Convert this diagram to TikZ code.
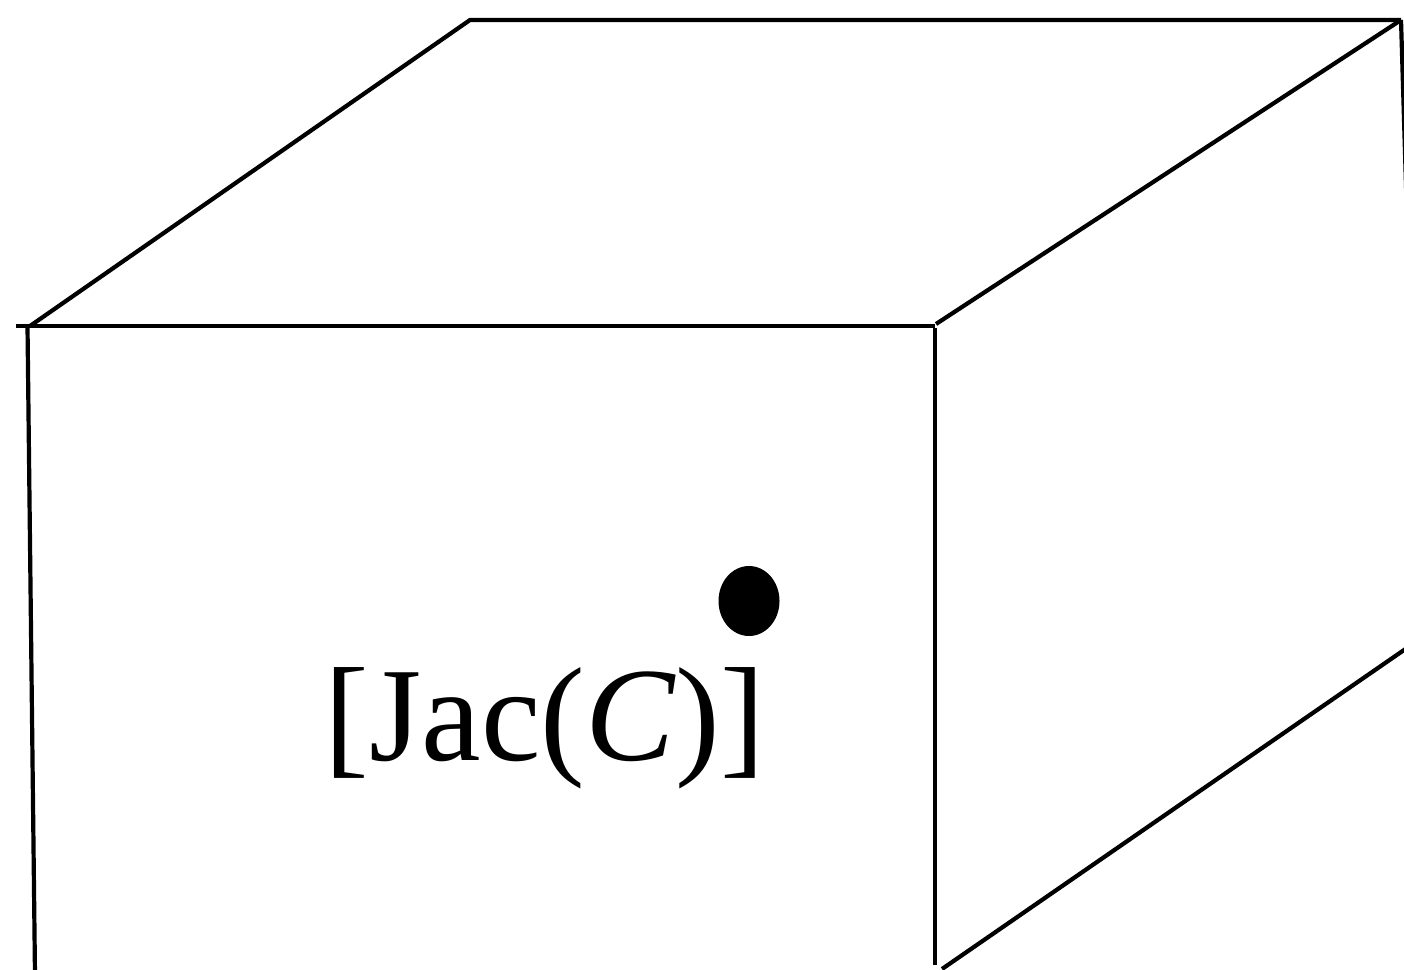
\documentclass[tikz,border=0pt]{standalone}
\usepackage{fontspec}
\usetikzlibrary{calc}
\setmainfont{Liberation Serif}
\begin{document}
\begin{tikzpicture}[x=1pt,y=-1pt,
  edge/.style={line width=4.2pt,line cap=butt,line join=miter},
  label/.style={anchor=base,inner sep=0pt,font=\fontsize{134}{160}\selectfont}]
\useasboundingbox (0,0) rectangle (1404,969);
\clip (0,0) rectangle (1404,969);
% corners
\coordinate (tick) at (16,326);
\coordinate (ftl) at (27.5,326);
\coordinate (ftlb) at (30,326);
\coordinate (ftr) at (935,326);
\coordinate (fbl) at (35,975);
\coordinate (fbr) at (935,965);
\coordinate (btl) at (470,20);
\coordinate (btr) at (1401,20);
\coordinate (bbr) at (1420,650);
\coordinate (ebr) at (1404,650);
\coordinate (sbl) at (942,969);
\coordinate (ftrd) at (936,324);
% front face
\draw[edge] (tick) -- (ftr);
\draw[edge] (ftl) -- (fbl);
\draw[edge] (935,328) -- (fbr);
% top face
\draw[edge] (ftlb) -- (btl) -- (btr);
\draw[edge] (ftrd) -- (btr);
% right face
\draw[edge] (btr) -- (bbr);
\draw[edge] (sbl) -- ($(sbl)!1.1!(ebr)$);
% label
\node[label] (lbl) at (545,760) {[Jac(\textit{C})]};
\fill (749,601) ellipse [x radius=30.5, y radius=35];
\end{tikzpicture}
\end{document}
